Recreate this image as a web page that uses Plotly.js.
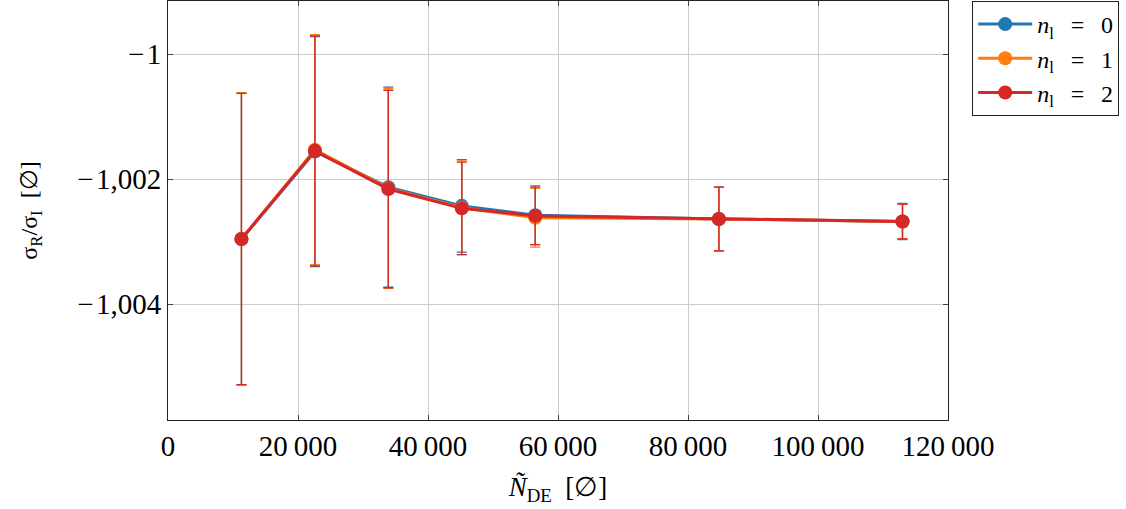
<!DOCTYPE html>
<html><head><meta charset="utf-8">
<script src="https://cdn.plot.ly/plotly-3.0.1.min.js"></script>
<style>html,body{margin:0;padding:0;background:#fff}</style>
</head><body><div id="chart" style="width:1126px;height:509px"></div>
<script>
const nDE = [11300, 22600, 33900, 45200, 56500, 84750, 113000];
const ratio0 = [-1.00296, -1.00156, -1.00213, -1.00243, -1.00258, -1.00264, -1.00268];
const ratio1 = [-1.00296, -1.00153, -1.00215, -1.00246, -1.00262, -1.00264, -1.00268];
const ratio2 = [-1.00296, -1.00155, -1.00216, -1.00247, -1.00259, -1.00264, -1.00268];
const err0 = [0.00233, 0.00184, 0.00160, 0.00074, 0.00047, 0.00051, 0.00029];
const err1 = [0.00234, 0.00184, 0.00160, 0.00075, 0.00047, 0.00051, 0.00028];
const err2 = [0.00233, 0.00184, 0.00158, 0.00074, 0.00046, 0.00051, 0.00028];
const seriesNames = ['<i>n</i><sub>l</sub>\u2002\u2009=\u2002\u20090', '<i>n</i><sub>l</sub>\u2002\u2009=\u2002\u20091', '<i>n</i><sub>l</sub>\u2002\u2009=\u2002\u20092'];
const colors = ['#1f77b4', '#ff7f0e', '#d62728'];
const yTickVals = [-1, -1.002, -1.004];
const yTickText = ['\u2212\u200a1', '\u2212\u200a1,002', '\u2212\u200a1,004'];
const xTickVals = [0, 20000, 40000, 60000, 80000, 100000, 120000];
const xTickText = ['0', '20\u2009000', '40\u2009000', '60\u2009000', '80\u2009000', '100\u2009000', '120\u2009000'];

const ys = [ratio0, ratio1, ratio2];
const es = [err0, err1, err2];
const traces = ys.map((y, i) => ({
  type: 'scatter', mode: 'lines+markers', x: nDE, y: y, name: seriesNames[i],
  line: {color: colors[i], width: 3},
  marker: {color: colors[i], size: 14},
  error_y: {type: 'data', array: es[i], visible: true, color: colors[i], thickness: 1.3, width: 5}
}));

const fam = 'Liberation Serif';
const tf = {family: fam, size: 29, color: '#000'};
const layout = {
  width: 1126, height: 509,
  margin: {l: 168, r: 178, t: 1, b: 89},
  paper_bgcolor: '#fff', plot_bgcolor: '#fff',
  font: tf,
  showlegend: true,
  legend: {x: 1.031, y: 1, xanchor: 'left', yanchor: 'top', bordercolor: '#222', borderwidth: 1,
           font: {family: fam, size: 24, color: '#000'}, bgcolor: '#fff', tracegroupgap: 0, itemwidth: 54},
  xaxis: {
    range: [0, 120000], tickvals: xTickVals, ticktext: xTickText,
    showgrid: true, gridcolor: '#cccccc', gridwidth: 1, zeroline: false,
    showline: true, mirror: 'ticks', linecolor: '#222', linewidth: 1,
    ticks: 'inside', ticklen: 5, tickcolor: '#444',
    tickfont: tf,
    title: {text: '<i>Ñ</i><sub>DE</sub>\u2002[∅]', font: {family: fam, size: 27, color: '#000'}, standoff: 16}
  },
  yaxis: {
    range: [-1.005856, -0.999152], tickvals: yTickVals, ticktext: yTickText,
    showgrid: true, gridcolor: '#cccccc', gridwidth: 1, zeroline: false,
    showline: true, mirror: 'ticks', linecolor: '#222', linewidth: 1,
    ticks: 'inside', ticklen: 5, tickcolor: '#444',
    tickfont: tf,
    title: {text: 'σ<sub>R</sub>/σ<sub>I</sub>\u2002[∅]', font: {family: fam, size: 24, color: '#000'}, standoff: 32}
  }
};
Plotly.newPlot('chart', traces, layout, {displayModeBar: false, staticPlot: true});
</script>
</body></html>
